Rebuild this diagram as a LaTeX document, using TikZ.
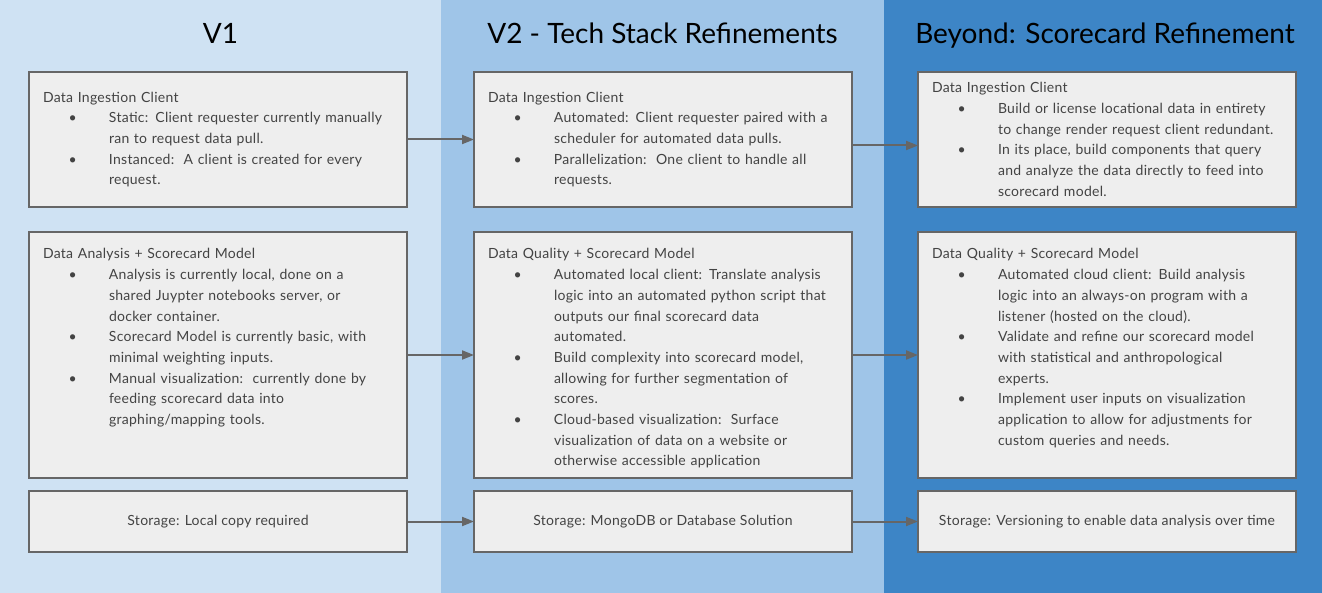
\documentclass[tikz,border=0pt]{standalone}
\usepackage{fontspec}
\setmainfont{Lato}
\newfontfamily\bodyfont[LetterSpace=2]{Lato}
\usetikzlibrary{arrows.meta,positioning}
\definecolor{ColOne}{HTML}{CFE2F3}
\definecolor{ColTwo}{HTML}{9FC5E8}
\definecolor{ColThree}{HTML}{3D85C6}
\definecolor{BoxFill}{HTML}{EEEEEE}
\definecolor{BoxLine}{HTML}{666666}
\definecolor{BodyText}{HTML}{434343}
\newcommand{\bul}{\makebox[66pt][l]{\hspace{25.5pt}\textbullet}}
\newcommand{\cnt}{\hspace*{66pt}}

\begin{document}
\begin{tikzpicture}[
  x=1pt, y=1pt,
  title/.style={font=\fontsize{28}{32}\selectfont, text=black, anchor=base},
  box/.style={draw=BoxLine, line width=1.3pt, outer sep=0pt, fill=BoxFill, text=BodyText, align=left, text width=350pt, inner xsep=14pt, inner ysep=0pt, font=\bodyfont\fontsize{14}{20.7}\selectfont},
  shortbox/.style={box, minimum height=135pt},
  tallbox/.style={box, text height=27pt, text depth=219pt},
  storebox/.style={draw=BoxLine, line width=1.3pt, outer sep=0pt, fill=BoxFill, text=BodyText, align=center, minimum width=378pt, minimum height=61pt, inner xsep=4pt, font=\bodyfont\fontsize{14}{20.7}\selectfont},
  arr/.style={-{Triangle[length=12pt,width=9pt]}, line width=2pt, draw=BoxLine}
]
% column backgrounds
\useasboundingbox (0,0) rectangle (1322,-593);
\fill[ColOne] (0,0) rectangle (441,-593);
\fill[ColTwo] (441,0) rectangle (884,-593);
\fill[ColThree] (884,0) rectangle (1322,-593);

% headings
\node[title] (t1) at (220.5,-44) {V1};
\node[title] (t2) at (662.5,-44) {V2 - Tech Stack Refinements};
\node[title] (t3) at (1105,-44) {Beyond: Scorecard Refinement};

% row 1
\node[shortbox, anchor=north west] (b11) at (29,-72) {Data Ingestion Client\\
\bul Static: Client requester currently manually\\
\cnt ran to request data pull.\\
\bul Instanced:\ \ A client is created for every\\
\cnt request.};
\node[shortbox, right=67pt of b11] (b12) {Data Ingestion Client\\
\bul Automated: Client requester paired with a\\
\cnt scheduler for automated data pulls.\\
\bul Parallelization:\ \ One client to handle all\\
\cnt requests.};
\node[shortbox, right=66pt of b12] (b13) {Data Ingestion Client\\
\bul Build or license locational data in entirety\\
\cnt to change render request client redundant.\\
\bul In its place, build components that query\\
\cnt and analyze the data directly to feed into\\
\cnt scorecard model.};

% row 2
\node[tallbox, below=25pt of b11] (b21) {Data Analysis + Scorecard Model\\
\bul Analysis is currently local, done on a\\
\cnt shared Juypter notebooks server, or\\
\cnt docker container.\\
\bul Scorecard Model is currently basic, with\\
\cnt minimal weighting inputs.\\
\bul Manual visualization:\ \ currently done by\\
\cnt feeding scorecard data into\\
\cnt graphing/mapping tools.};
\node[tallbox, below=25pt of b12] (b22) {Data Quality + Scorecard Model\\
\bul Automated local client: Translate analysis\\
\cnt logic into an automated python script that\\
\cnt outputs our final scorecard data\\
\cnt automated.\\
\bul Build complexity into scorecard model,\\
\cnt allowing for further segmentation of\\
\cnt scores.\\
\bul Cloud-based visualization:\ \ Surface\\
\cnt visualization of data on a website or\\
\cnt otherwise accessible application};
\node[tallbox, below=25pt of b13] (b23) {Data Quality + Scorecard Model\\
\bul Automated cloud client: Build analysis\\
\cnt logic into an always-on program with a\\
\cnt listener (hosted on the cloud).\\
\bul Validate and refine our scorecard model\\
\cnt with statistical and anthropological\\
\cnt experts.\\
\bul Implement user inputs on visualization\\
\cnt application to allow for adjustments for\\
\cnt custom queries and needs.};

% row 3
\node[storebox, below=13pt of b21] (b31) {Storage: Local copy required};
\node[storebox, below=13pt of b22] (b32) {Storage: MongoDB or Database Solution};
\node[storebox, below=13pt of b23] (b33) {Storage: Versioning to enable data analysis over time};

% connectors
\draw[arr] (b11) -- (b12);
\draw[arr] ([yshift=-6pt]b12.east) -- ([yshift=-6pt]b13.west);
\draw[arr] (b21) -- (b22);
\draw[arr] (b22) -- (b23);
\draw[arr] (b31) -- (b32);
\draw[arr] (b32) -- (b33);
\end{tikzpicture}
\end{document}
